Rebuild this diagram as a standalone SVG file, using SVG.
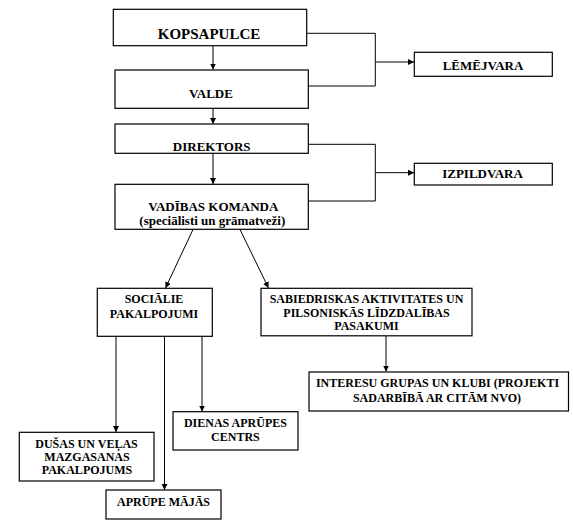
<svg xmlns="http://www.w3.org/2000/svg" width="573" height="524" viewBox="0 0 573 524">
<style>
.box{fill:#fff;stroke:#000;stroke-width:1.2}
.t{font-family:'Liberation Serif','Times New Roman','DejaVu Serif',serif;font-weight:bold;font-size:13px;text-anchor:middle;fill:#000}
.s{font-size:12px}
.c{fill:none;stroke:#000;stroke-width:1}
.a{marker-end:url(#ah)}
</style>
<defs>
<marker id="ah" markerWidth="6" markerHeight="6" refX="6" refY="3" orient="auto" markerUnits="userSpaceOnUse">
<path d="M0,0 L6,3 L0,6 z" fill="#000"/>
</marker>
</defs>
<rect width="573" height="524" fill="#fff"/>
<g id="connectors">
<line class="c a" x1="213" y1="46" x2="213" y2="69.5"/>
<line class="c a" x1="213" y1="108.5" x2="213" y2="124"/>
<line class="c a" x1="213" y1="153.5" x2="213" y2="184"/>
<polyline class="c" points="307,33.3 375.3,33.3 375.3,86 308,86"/>
<line class="c a" x1="375.3" y1="62" x2="414" y2="62"/>
<polyline class="c" points="308,144.3 375.3,144.3 375.3,201 308,201"/>
<line class="c a" x1="375.3" y1="172.7" x2="414" y2="172.7"/>
<line class="c a" x1="193" y1="229.5" x2="165.5" y2="288"/>
<line class="c a" x1="240" y1="229.5" x2="268.5" y2="288"/>
<line class="c a" x1="386" y1="336" x2="386" y2="371.5"/>
<line class="c a" x1="116" y1="336.5" x2="116" y2="432"/>
<line class="c a" x1="164.5" y1="336.5" x2="164.5" y2="490"/>
<line class="c a" x1="202" y1="336.5" x2="202" y2="411.5"/>
</g>
<g id="kopsapulce">
<rect class="box" x="113.3" y="9.3" width="193.4" height="36.4"/>
<text class="t" x="209" y="38.5" font-family="Liberation Serif" style="font-size:15px">KOPSAPULCE</text>
</g>
<g id="valde">
<rect class="box" x="115" y="70" width="193.3" height="38.3"/>
<text class="t" x="211" y="97.6">VALDE</text>
</g>
<g id="direktors">
<rect class="box" x="115" y="124" width="193.3" height="29.3"/>
<text class="t" x="211.7" y="151">DIREKTORS</text>
</g>
<g id="vadibas">
<rect class="box" x="115" y="184.3" width="193.3" height="45"/>
<text class="t" x="213.3" y="211">VADĪBAS KOMANDA</text>
<text class="t" x="212.3" y="225">(speciālisti un grāmatveži)</text>
</g>
<g id="lemejvara">
<rect class="box" x="414.3" y="52.3" width="138" height="24"/>
<text class="t" x="483" y="69.5">LĒMĒJVARA</text>
</g>
<g id="izpildvara">
<rect class="box" x="414.3" y="163.3" width="138" height="21.7"/>
<text class="t" x="482.5" y="177.5">IZPILDVARA</text>
</g>
<g id="socialie">
<rect class="box" x="97.3" y="288.3" width="115" height="48"/>
<text class="t s" x="154" y="303.3">SOCIĀLIE</text>
<text class="t s" x="154" y="318">PAKALPOJUMI</text>
</g>
<g id="sabiedriskas">
<rect class="box" x="261" y="288.3" width="211" height="47.5"/>
<text class="t s" x="366.5" y="303">SABIEDRISKAS AKTIVITATES UN</text>
<text class="t s" x="366.5" y="316.7">PILSONISKĀS LĪDZDALĪBAS</text>
<text class="t s" x="366.5" y="330">PASAKUMI</text>
</g>
<g id="interesu">
<rect class="box" x="309" y="372" width="259.5" height="39"/>
<text class="t s" x="437.5" y="387.3">INTERESU GRUPAS UN KLUBI (PROJEKTI</text>
<text class="t s" x="437" y="402">SADARBĪBĀ AR CITĀM NVO)</text>
</g>
<g id="dusas">
<rect class="box" x="19.3" y="432.3" width="134.7" height="48.7"/>
<text class="t s" x="86.5" y="448">DUŠAS UN VEĻAS</text>
<text class="t s" x="87" y="460.7">MAZGASANAS</text>
<text class="t s" x="87" y="474">PAKALPOJUMS</text>
</g>
<g id="dienas">
<rect class="box" x="173" y="411.7" width="125" height="38.3"/>
<text class="t s" x="235.4" y="426.7">DIENAS APRŪPES</text>
<text class="t s" x="235.4" y="441.3">CENTRS</text>
</g>
<g id="aprupe">
<rect class="box" x="106" y="490" width="115" height="29"/>
<text class="t s" x="163.5" y="505.7">APRŪPE MĀJĀS</text>
</g>
</svg>
